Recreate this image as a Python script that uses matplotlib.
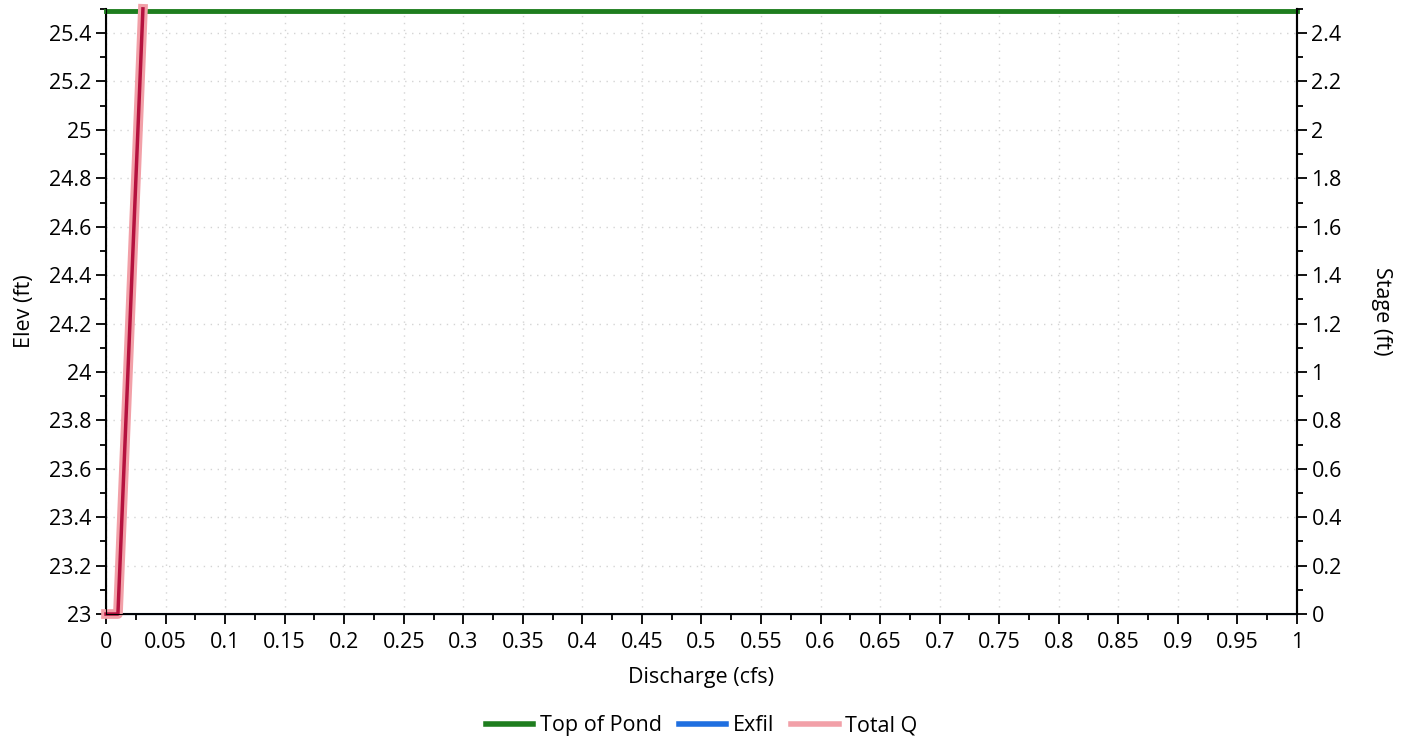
import matplotlib
matplotlib.use("Agg")
import matplotlib.pyplot as plt
from matplotlib.lines import Line2D
from matplotlib.ticker import MultipleLocator

plt.rcParams["font.family"] = ["Open Sans", "DejaVu Sans"]

# data
pond_q = [0.0, 1.0]
pond_elev = [25.49, 25.49]
exfil_q = [0.0, 1.0]
exfil_elev = [23.0, 23.0]
total_q = [0.0, 0.01, 0.031]
total_elev = [23.0, 23.0, 25.5]
x_ticks = [0, 0.05, 0.1, 0.15, 0.2, 0.25, 0.3, 0.35, 0.4, 0.45, 0.5,
           0.55, 0.6, 0.65, 0.7, 0.75, 0.8, 0.85, 0.9, 0.95, 1]
x_labels = ["0", "0.05", "0.1", "0.15", "0.2", "0.25", "0.3", "0.35", "0.4", "0.45", "0.5",
            "0.55", "0.6", "0.65", "0.7", "0.75", "0.8", "0.85", "0.9", "0.95", "1"]
elev_ticks = [23, 23.2, 23.4, 23.6, 23.8, 24, 24.2, 24.4, 24.6, 24.8, 25, 25.2, 25.4]
stage_ticks = [0, 0.2, 0.4, 0.6, 0.8, 1, 1.2, 1.4, 1.6, 1.8, 2, 2.2, 2.4]

GREEN = "#1e7d1e"
BLUE = "#1f6fe0"
PINK = "#f2a0a8"
CRIMSON = "#b5123f"

fig = plt.figure(figsize=(14.06, 7.38), dpi=100)
ax = fig.add_axes([0.0754, 0.168, 0.847, 0.82])

ax.plot(pond_q, pond_elev, color=GREEN, lw=3.5, zorder=4, clip_on=False)
ax.plot(exfil_q, exfil_elev, color=BLUE, lw=1.0, zorder=3, alpha=0.3, clip_on=False)
ax.plot(total_q, total_elev, color=PINK, lw=7, zorder=5, clip_on=False)
ax.plot(total_q, total_elev, color=CRIMSON, lw=2.5, zorder=6, clip_on=False)

ax.set_xlim(0, 1)
ax.set_ylim(23, 25.5)
ax.set_xticks(x_ticks)
ax.set_xticklabels(x_labels)
ax.set_yticks(elev_ticks)
ax.set_yticklabels(["%g" % t for t in elev_ticks])
ax.xaxis.set_minor_locator(MultipleLocator(0.025))
ax.yaxis.set_minor_locator(MultipleLocator(0.1))
ax.tick_params(axis="both", which="major", labelsize=15.5, length=7, width=1.3, direction="out")
ax.tick_params(axis="x", which="major", pad=6)
ax.tick_params(axis="both", which="minor", length=4, width=1.3, direction="out")
ax.grid(True, which="major", color="#d4d4d4", ls=(0, (1, 4)), lw=1)
ax.spines["top"].set_visible(False)
for s in ("left", "right", "bottom"):
    ax.spines[s].set_linewidth(1.5)
    ax.spines[s].set_color("black")

ax.set_xlabel("Discharge (cfs)", fontsize=15.5, labelpad=10)
ax.set_ylabel("Elev (ft)", fontsize=15.5, labelpad=10)

ax2 = ax.twinx()
ax2.set_ylim(0, 2.5)
ax2.set_yticks(stage_ticks)
ax2.set_yticklabels(["%g" % t for t in stage_ticks])
ax2.yaxis.set_minor_locator(MultipleLocator(0.1))
ax2.tick_params(axis="y", which="major", labelsize=15.5, length=7, width=1.3)
ax2.tick_params(axis="y", which="minor", length=4, width=1.3)
ax2.spines["top"].set_visible(False)
ax2.spines["right"].set_linewidth(1.5)
ax2.set_ylabel("Stage (ft)", fontsize=15.5, rotation=-90, labelpad=36)

handles = [Line2D([], [], color=GREEN, lw=4),
           Line2D([], [], color=BLUE, lw=4),
           Line2D([], [], color=PINK, lw=4)]
ax.legend(handles, ["Top of Pond", "Exfil", "Total Q"], loc="upper center",
          bbox_to_anchor=(0.5, -0.135), ncol=3, frameon=False,
          fontsize=15.5, handlelength=2.2, handletextpad=0.3, columnspacing=0.8)

fig.savefig("out.png", dpi=100)
